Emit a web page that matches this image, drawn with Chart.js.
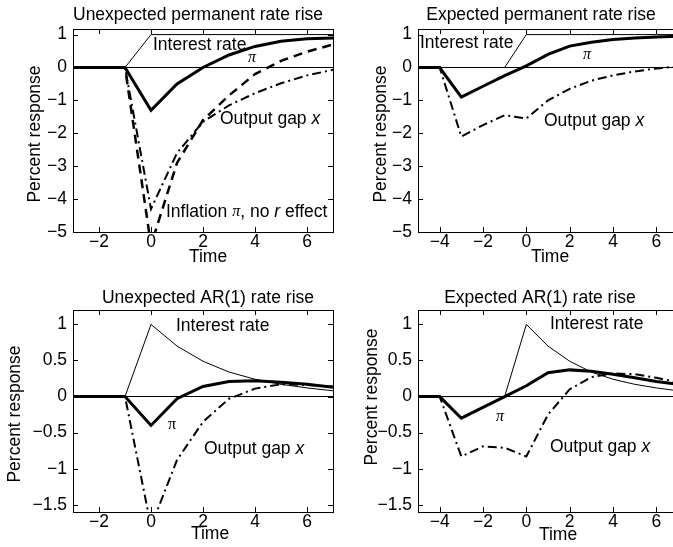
<!DOCTYPE html>
<html>
<head>
<meta charset="utf-8">
<script src="https://cdn.jsdelivr.net/npm/chart.js@4.4.0/dist/chart.umd.min.js"></script>
<style>
  html, body { margin: 0; padding: 0; overflow: hidden; background: #fff; width: 673px; height: 547px; }
  canvas { position: absolute; }
</style>
</head>
<body>
<canvas id="p1" width="345" height="270" style="left:0;top:0;width:345px;height:270px"></canvas>
<canvas id="p2" width="345" height="270" style="left:345px;top:0;width:345px;height:270px"></canvas>
<canvas id="p3" width="345" height="277" style="left:0;top:270px;width:345px;height:277px"></canvas>
<canvas id="p4" width="345" height="277" style="left:345px;top:270px;width:345px;height:277px"></canvas>
<script>
// time axes
const timeUnexp = [-3, -2, -1, 0, 1, 2, 3, 4, 5, 6, 7];
const timeExp = [-5, -4, -3, -2, -1, 0, 1, 2, 3, 4, 5, 6, 7];
const xTicksUnexp = [-2, 0, 2, 4, 6];
const xTicksExp = [-4, -2, 0, 2, 4, 6];
const yTicksPerm = [-5, -4, -3, -2, -1, 0, 1];
const yTicksAR = [-1.5, -1, -0.5, 0, 0.5, 1];

// unexpected permanent rise
const rateUnexpPerm = [0, 0, 0, 1, 1, 1, 1, 1, 1, 1, 1];
const piUnexpPerm = [0, 0, 0, -1.3, -0.5, 0.0, 0.38, 0.64, 0.8, 0.87, 0.9];
const gapUnexpPerm = [0, 0, 0, -4.3, -2.6, -1.65, -1.15, -0.78, -0.48, -0.24, -0.07];
const piNoRUnexpPerm = [0, 0, 0, -5.4, -2.9, -1.6, -0.85, -0.2, 0.2, 0.48, 0.7];

// expected permanent rise
const rateExpPerm = [0, 0, 0, 0, 0, 1, 1, 1, 1, 1, 1, 1, 1];
const piExpPerm = [0, 0, -0.9, -0.57, -0.25, 0.05, 0.4, 0.65, 0.77, 0.85, 0.9, 0.93, 0.95];
const gapExpPerm = [0, 0, -2.1, -1.75, -1.45, -1.55, -1.0, -0.65, -0.4, -0.24, -0.12, -0.03, 0.03];

// unexpected AR(1) rise
const rateUnexpAR = [0, 0, 0, 1, 0.7, 0.49, 0.34, 0.24, 0.17, 0.12, 0.08];
const piUnexpAR = [0, 0, 0, -0.4, -0.03, 0.14, 0.21, 0.22, 0.2, 0.17, 0.13];
const gapUnexpAR = [0, 0, 0, -1.8, -0.88, -0.35, -0.03, 0.11, 0.17, 0.16, 0.14];

// expected AR(1) rise
const rateExpAR = [0, 0, 0, 0, 0, 1, 0.7, 0.49, 0.34, 0.24, 0.17, 0.12, 0.08];
const piExpAR = [0, 0, -0.3, -0.15, 0.0, 0.15, 0.33, 0.37, 0.35, 0.31, 0.26, 0.21, 0.17];
const gapExpAR = [0, 0, -0.83, -0.69, -0.71, -0.83, -0.25, 0.1, 0.27, 0.32, 0.31, 0.26, 0.2];

const SANS = '"Liberation Sans", Arial, sans-serif';
const SERIF = '"Liberation Serif", "Times New Roman", serif';

function pts(t, v) {
    return t.map((x, i) => ({ x: x, y: v[i] }));
}

function fmt(v) {
    return v < 0 ? '\u2212' + Math.abs(v) : String(v);
}

// line styles (MATLAB look)
function rateLine(t, v) {
    return { data: pts(t, v), borderColor: '#000', borderWidth: 1, pointRadius: 0, tension: 0 };
}
function piLine(t, v) {
    return { data: pts(t, v), borderColor: '#000', borderWidth: 3, pointRadius: 0, tension: 0 };
}
function gapLine(t, v) {
    return { data: pts(t, v), borderColor: '#000', borderWidth: 2, borderDash: [9, 4, 2, 4], pointRadius: 0, tension: 0 };
}
function dashLine(t, v) {
    return { data: pts(t, v), borderColor: '#000', borderWidth: 2.5, borderDash: [9, 6], pointRadius: 0, tension: 0 };
}

// draws a run of text pieces with different fonts
function drawRun(ctx, parts, x, y) {
    ctx.textAlign = 'left';
    ctx.textBaseline = 'middle';
    parts.forEach(p => {
        ctx.font = p[1];
        ctx.fillText(p[0], x, y);
        x += ctx.measureText(p[0]).width;
    });
}

const decor = {
    id: 'decor',
    afterDraw(chart, args, o) {
        const ctx = chart.ctx;
        const a = chart.chartArea;
        const x = chart.scales.x, y = chart.scales.y;
        ctx.save();
        ctx.strokeStyle = '#000';
        ctx.lineWidth = 1;
        ctx.strokeRect(Math.round(a.left) + 0.5, Math.round(a.top) + 0.5, Math.round(a.width), Math.round(a.height));

        // inward tick marks on all four sides
        ctx.beginPath();
        o.xTicks.forEach(v => {
            const px = Math.round(x.getPixelForValue(v)) + 0.5;
            ctx.moveTo(px, a.bottom); ctx.lineTo(px, a.bottom - 5);
            ctx.moveTo(px, a.top); ctx.lineTo(px, a.top + 5);
        });
        o.yTicks.forEach(v => {
            const py = Math.round(y.getPixelForValue(v)) + 0.5;
            ctx.moveTo(a.left, py); ctx.lineTo(a.left + 5, py);
            ctx.moveTo(a.right, py); ctx.lineTo(a.right - 5, py);
        });
        ctx.stroke();

        ctx.fillStyle = '#000';
        ctx.textAlign = 'center';
        ctx.textBaseline = 'middle';
        ctx.font = '17.5px ' + SANS;
        ctx.fillText(o.title, o.titlePos[0], o.titlePos[1]);
        ctx.fillText('Time', o.timePos[0], o.timePos[1]);

        ctx.save();
        ctx.translate(o.ylabPos[0], o.ylabPos[1]);
        ctx.rotate(-Math.PI / 2);
        ctx.fillText('Percent response', 0, 0);
        ctx.restore();

        o.notes.forEach(n => drawRun(ctx, n.parts, n.at[0], n.at[1]));
        ctx.restore();
    }
};

const plain = '17.5px ' + SANS;
const ital = 'italic 17.5px ' + SANS;
const greek = 'italic 16px ' + SERIF;

function makePanel(id, p) {
    new Chart(document.getElementById(id), {
        type: 'line',
        data: { datasets: p.datasets },
        plugins: [decor],
        options: {
            responsive: false,
            animation: false,
            events: [],
            layout: { padding: { left: 0, top: p.padTop, right: 12, bottom: 0 } },
            plugins: {
                legend: { display: false },
                tooltip: { enabled: false },
                decor: {
                    title: p.title, titlePos: p.titlePos, timePos: p.timePos, ylabPos: p.ylabPos,
                    xTicks: p.xTicks, yTicks: p.yTicks, notes: p.notes
                }
            },
            scales: {
                x: {
                    type: 'linear', min: p.xMin, max: p.xMax,
                    afterBuildTicks: s => { s.ticks = p.xTicks.map(v => ({ value: v })); },
                    afterFit: s => { s.height = p.xAxisH; s.paddingLeft = 0; s.paddingRight = 0; },
                    grid: { display: false, drawTicks: false },
                    border: { display: false },
                    ticks: { color: '#000', font: { family: SANS, size: 17.5 }, padding: 0, maxRotation: 0, autoSkip: false, callback: fmt }
                },
                y: {
                    type: 'linear', min: p.yMin, max: p.yMax,
                    afterBuildTicks: s => { s.ticks = p.yTicks.map(v => ({ value: v })); },
                    afterFit: s => { s.width = 73; s.paddingTop = 0; s.paddingBottom = 0; },
                    grid: {
                        drawTicks: false, lineWidth: 1,
                        color: c => (c.tick && c.tick.value === 0 ? '#000' : 'rgba(0,0,0,0)')
                    },
                    border: { display: false },
                    ticks: { color: '#000', font: { family: SANS, size: 17.5 }, padding: 6, autoSkip: false, callback: fmt }
                }
            }
        }
    });
}

makePanel('p1', {
    title: 'Unexpected permanent rate rise', titlePos: [198, 15], timePos: [208, 257], ylabPos: [35, 134],
    padTop: 29, xAxisH: 38, xMin: -3, xMax: 7, yMin: -5, yMax: 1.17,
    xTicks: xTicksUnexp, yTicks: yTicksPerm,
    datasets: [
        rateLine(timeUnexp, rateUnexpPerm),
        dashLine(timeUnexp, piNoRUnexpPerm),
        gapLine(timeUnexp, gapUnexpPerm),
        piLine(timeUnexp, piUnexpPerm)
    ],
    notes: [
        { parts: [['Interest rate', plain]], at: [153, 45] },
        { parts: [['\u03c0', greek]], at: [248, 58] },
        { parts: [['Output gap ', plain], ['x', ital]], at: [220, 119] },
        { parts: [['Inflation ', plain], ['\u03c0', greek], [', no ', plain], ['r', ital], [' effect', plain]], at: [166, 212] }
    ]
});

makePanel('p2', {
    title: 'Expected permanent rate rise', titlePos: [196, 15], timePos: [205, 257], ylabPos: [36, 134],
    padTop: 29, xAxisH: 38, xMin: -5, xMax: 7, yMin: -5, yMax: 1.17,
    xTicks: xTicksExp, yTicks: yTicksPerm,
    datasets: [
        rateLine(timeExp, rateExpPerm),
        gapLine(timeExp, gapExpPerm),
        piLine(timeExp, piExpPerm)
    ],
    notes: [
        { parts: [['Interest rate', plain]], at: [75, 43] },
        { parts: [['\u03c0', greek]], at: [238, 55] },
        { parts: [['Output gap ', plain], ['x', ital]], at: [199, 121] }
    ]
});

makePanel('p3', {
    title: 'Unexpected AR(1) rate rise', titlePos: [208, 28], timePos: [210, 264], ylabPos: [15, 144],
    padTop: 40, xAxisH: 35, xMin: -3, xMax: 7, yMin: -1.6, yMax: 1.2,
    xTicks: xTicksUnexp, yTicks: yTicksAR,
    datasets: [
        rateLine(timeUnexp, rateUnexpAR),
        gapLine(timeUnexp, gapUnexpAR),
        piLine(timeUnexp, piUnexpAR)
    ],
    notes: [
        { parts: [['Interest rate', plain]], at: [176, 56] },
        { parts: [['\u03c0', '16px ' + SERIF]], at: [168, 155] },
        { parts: [['Output gap ', plain], ['x', ital]], at: [204, 179] }
    ]
});

makePanel('p4', {
    title: 'Expected AR(1) rate rise', titlePos: [195, 28], timePos: [213, 265], ylabPos: [27, 127],
    padTop: 40, xAxisH: 35, xMin: -5, xMax: 7, yMin: -1.6, yMax: 1.2,
    xTicks: xTicksExp, yTicks: yTicksAR,
    datasets: [
        rateLine(timeExp, rateExpAR),
        gapLine(timeExp, gapExpAR),
        piLine(timeExp, piExpAR)
    ],
    notes: [
        { parts: [['Interest rate', plain]], at: [205, 54] },
        { parts: [['\u03c0', greek]], at: [151, 147] },
        { parts: [['Output gap ', plain], ['x', ital]], at: [205, 177] }
    ]
});
</script>
</body>
</html>
